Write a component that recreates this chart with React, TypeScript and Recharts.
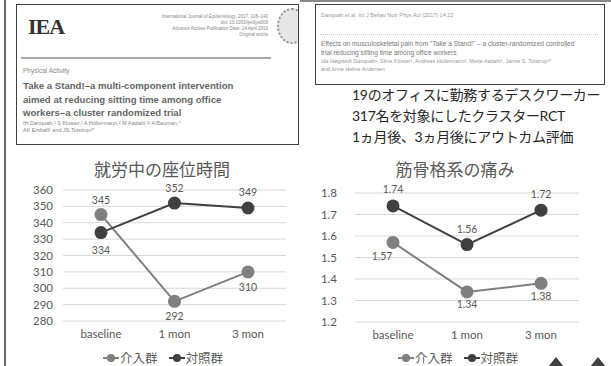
import React from "react";
import {
  LineChart,
  Line,
  XAxis,
  YAxis,
  CartesianGrid,
  LabelList,
} from "recharts";

const CATEGORIES = ["baseline", "1 mon", "3 mon"];
const SERIES_NAMES = ["介入群", "対照群"];

// 就労中の座位時間 (min)
const SITTING_INTERVENTION = [345, 292, 310];
const SITTING_CONTROL = [334, 352, 349];
const SITTING_TICKS = [280, 290, 300, 310, 320, 330, 340, 350, 360];

// 筋骨格系の痛み
const PAIN_INTERVENTION = [1.57, 1.34, 1.38];
const PAIN_CONTROL = [1.74, 1.56, 1.72];
const PAIN_TICKS = [1.2, 1.3, 1.4, 1.5, 1.6, 1.7, 1.8];

const sittingData = CATEGORIES.map((c, i) => ({
  name: c,
  a: SITTING_INTERVENTION[i],
  b: SITTING_CONTROL[i],
}));
const painData = CATEGORIES.map((c, i) => ({
  name: c,
  a: PAIN_INTERVENTION[i],
  b: PAIN_CONTROL[i],
}));

const C_INT = "#7f7f7f";
const C_CTL = "#404040";
const TXT = "#595959";
const FONT = "Lato, 'Noto Sans CJK JP', sans-serif";
const JP = "'Noto Sans CJK JP', sans-serif";

// label placement per point: [dx, dy]
const SIT_INT_LBL = [[0, -15], [0, 15], [0, 15]];
const SIT_CTL_LBL = [[0, 17], [0, -15], [0, -16]];
const PAIN_INT_LBL = [[-11, 14], [0, 12], [0, 13]];
const PAIN_CTL_LBL = [[0, -17], [0, -16], [0, -16]];

const makeLabel = (offsets: number[][], fmt: (v: number) => string) => (p: any) => {
  const o = offsets[p.index] || [0, 0];
  return (
    <text
      x={p.x + o[0]}
      y={p.y + o[1]}
      textAnchor="middle"
      dominantBaseline="central"
      fontSize={10.5}
      fill={TXT}
      fontFamily={FONT}
    >
      {fmt(p.value)}
    </text>
  );
};

function LegendRow({ left, top }: { left: number; top: number }) {
  const colors = [C_INT, C_CTL];
  return (
    <div
      style={{
        position: "absolute",
        left,
        top,
        display: "flex",
        alignItems: "center",
        fontFamily: JP,
        fontSize: 12.5,
        color: TXT,
        lineHeight: "14px",
      }}
    >
      {SERIES_NAMES.map((n, i) => (
        <div key={n} style={{ display: "flex", alignItems: "center", marginRight: 11 }}>
          <svg width={16} height={10} style={{ marginRight: 1 }}>
            <line x1={0} y1={5} x2={16} y2={5} stroke={colors[i]} strokeWidth={2} />
            <circle cx={8} cy={5} r={4} fill={colors[i]} />
          </svg>
          <span>{n}</span>
        </div>
      ))}
    </div>
  );
}

function Chart(props: {
  data: any[];
  left: number;
  ticks: number[];
  domain: [number, number];
  yWidth: number;
  yMargin: number;
  margin: any;
  padding: number;
  fmt: (v: number) => string;
  intLbl: number[][];
  ctlLbl: number[][];
}) {
  return (
    <div style={{ position: "absolute", left: props.left, top: 150 }}>
      <LineChart width={300} height={216} data={props.data} margin={props.margin}>
        <CartesianGrid vertical={false} stroke="#d9d9d9" />
        <XAxis
          dataKey="name"
          axisLine={false}
          tickLine={false}
          tickSize={0}
          tickMargin={9}
          padding={{ left: props.padding, right: props.padding }}
          tick={{ fill: TXT, fontSize: 11.5, fontFamily: FONT }}
        />
        <YAxis
          domain={props.domain}
          ticks={props.ticks}
          width={props.yWidth}
          axisLine={false}
          tickLine={false}
          tickSize={0}
          tickMargin={props.yMargin}
          interval={0}
          tickFormatter={props.fmt}
          tick={{ fill: TXT, fontSize: 11.5, fontFamily: FONT }}
        />
        <Line
          dataKey="a"
          name={SERIES_NAMES[0]}
          stroke={C_INT}
          strokeWidth={2}
          dot={{ r: 6.5, fill: C_INT, stroke: C_INT, strokeWidth: 0 }}
          activeDot={false}
          isAnimationActive={false}
        >
          <LabelList dataKey="a" content={makeLabel(props.intLbl, props.fmt)} />
        </Line>
        <Line
          dataKey="b"
          name={SERIES_NAMES[1]}
          stroke={C_CTL}
          strokeWidth={2}
          dot={{ r: 6.5, fill: C_CTL, stroke: C_CTL, strokeWidth: 0 }}
          activeDot={false}
          isAnimationActive={false}
        >
          <LabelList dataKey="b" content={makeLabel(props.ctlLbl, props.fmt)} />
        </Line>
      </LineChart>
    </div>
  );
}

const tiny = (size: number, color: string): React.CSSProperties => ({
  fontFamily: "'Liberation Sans', sans-serif",
  fontSize: size,
  color,
  whiteSpace: "nowrap",
  lineHeight: 1,
});

function PaperLeft() {
  return (
    <div
      style={{
        position: "absolute",
        left: 16,
        top: 4,
        width: 281,
        height: 139,
        border: "1px solid #404040",
        overflow: "hidden",
        background: "#fff",
      }}
    >
      <div
        style={{
          position: "absolute",
          left: 11,
          top: 9,
          fontFamily: "'Liberation Serif', serif",
          fontWeight: 700,
          fontSize: 22,
          color: "#333",
          letterSpacing: -1,
        }}
      >
        IEA
      </div>
      <div style={{ position: "absolute", right: 30, top: 10, textAlign: "right" }}>
        {[
          "International Journal of Epidemiology, 2017, 128–140",
          "doi: 10.1093/ije/dyw009",
          "Advance Access Publication Date: 14 April 2016",
          "Original article",
        ].map((t) => (
          <div key={t} style={{ ...tiny(4.5, "#888"), height: 6 }}>
            {t}
          </div>
        ))}
      </div>
      <div
        style={{
          position: "absolute",
          left: 260,
          top: 3,
          width: 26,
          height: 32,
          borderRadius: "50%",
          border: "2px dotted #999",
          background: "#e6e6e6",
        }}
      />
      <div style={{ position: "absolute", left: 4, top: 52, width: 250, height: 2, background: "#aaa" }} />
      <div style={{ position: "absolute", left: 6, top: 63, ...tiny(6.5, "#888") }}>Physical Activity</div>
      <div
        style={{
          position: "absolute",
          left: 6,
          top: 74,
          fontFamily: "'Liberation Sans', sans-serif",
          fontWeight: 700,
          fontSize: 9.6,
          lineHeight: "13.5px",
          color: "#666",
          whiteSpace: "nowrap",
        }}
      >
        <div>Take a Stand!–a multi-component intervention</div>
        <div>aimed at reducing sitting time among office</div>
        <div>workers–a cluster randomized trial</div>
      </div>
      <div style={{ position: "absolute", left: 6, top: 116 }}>
        <div style={{ ...tiny(5.5, "#888"), height: 7 }}>
          IH Danquah,¹ S Kloster,¹ A Holtermann,² M Aadahl,¹³ A Bauman,⁴
        </div>
        <div style={{ ...tiny(5.5, "#888"), height: 7 }}>AK Ersbøll¹ and JS Tolstrup¹*</div>
      </div>
    </div>
  );
}

function PaperRight() {
  return (
    <div
      style={{
        position: "absolute",
        left: 315,
        top: 4,
        width: 288,
        height: 79,
        border: "1px solid #404040",
        overflow: "hidden",
        background: "#fff",
      }}
    >
      <div style={{ position: "absolute", left: 5, top: 8, ...tiny(5.5, "#999") }}>
        Danquah et al. Int J Behav Nutr Phys Act (2017) 14:22
      </div>
      <div
        style={{
          position: "absolute",
          left: 4,
          top: 29,
          width: 278,
          borderTop: "1px dotted #ccc",
        }}
      />
      <div style={{ position: "absolute", left: 5, top: 36, ...tiny(6.6, "#777") }}>
        Effects on musculoskeletal pain from "Take a Stand!" – a cluster-randomized controlled
      </div>
      <div style={{ position: "absolute", left: 5, top: 45, ...tiny(6.6, "#777") }}>
        trial reducing sitting time among office workers
      </div>
      <div style={{ position: "absolute", left: 5, top: 54, ...tiny(5.4, "#999") }}>
        Ida Høgstedt Danquah¹, Stine Kloster¹, Andreas Holtermann², Mette Aadahl³, Janne S. Tolstrup¹*
      </div>
      <div style={{ position: "absolute", left: 5, top: 62, ...tiny(5.4, "#999") }}>
        and Anne Helms Andersen
      </div>
    </div>
  );
}

export default function App() {
  const fmt0 = (v: number) => String(v);
  const fmt2 = (v: number) => (Math.round(v * 100) / 100).toString();
  const fmtTick1 = (v: number) => v.toFixed(1);
  return (
    <div
      style={{
        position: "fixed",
        left: 0,
        top: 0,
        width: 611,
        height: 366,
        background: "#fff",
        overflow: "hidden",
        fontFamily: FONT,
      }}
    >
      <div style={{ position: "absolute", left: 4, top: 0, width: 2, height: 366, background: "#666" }} />
      <div style={{ position: "absolute", left: 300, top: 0, width: 311, height: 2, background: "#888" }} />
      <PaperLeft />
      <PaperRight />
      <div
        style={{
          position: "absolute",
          left: 352,
          top: 84,
          fontFamily: FONT,
          fontSize: 14,
          letterSpacing: -0.3,
          lineHeight: "21px",
          color: "#262626",
          whiteSpace: "nowrap",
        }}
      >
        <div>19のオフィスに勤務するデスクワーカー</div>
        <div>317名を対象にしたクラスターRCT</div>
        <div>1ヵ月後、3ヵ月後にアウトカム評価</div>
      </div>

      <div
        style={{
          position: "absolute",
          left: 62,
          width: 200,
          top: 157,
          textAlign: "center",
          fontFamily: JP,
          fontSize: 17,
          lineHeight: "24px",
          color: TXT,
        }}
      >
        就労中の座位時間
      </div>
      <div
        style={{
          position: "absolute",
          left: 355,
          width: 200,
          top: 157,
          textAlign: "center",
          fontFamily: JP,
          fontSize: 17,
          lineHeight: "24px",
          color: TXT,
        }}
      >
        筋骨格系の痛み
      </div>

      <Chart
        data={sittingData}
        left={0}
        ticks={SITTING_TICKS}
        domain={[280, 360]}
        yWidth={63}
        yMargin={10}
        margin={{ top: 40, right: 14, left: 0, bottom: 15 }}
        padding={38}
        fmt={fmt0}
        intLbl={SIT_INT_LBL}
        ctlLbl={SIT_CTL_LBL}
      />
      <Chart
        data={painData}
        left={300}
        ticks={PAIN_TICKS}
        domain={[1.2, 1.8]}
        yWidth={55}
        yMargin={18}
        margin={{ top: 43, right: 21, left: 0, bottom: 14 }}
        padding={38}
        fmt={(v) => (PAIN_TICKS.includes(v) ? fmtTick1(v) : fmt2(v))}
        intLbl={PAIN_INT_LBL}
        ctlLbl={PAIN_CTL_LBL}
      />

      <LegendRow left={103} top={351} />
      <LegendRow left={398} top={351} />

      <svg style={{ position: "absolute", left: 0, top: 0 }} width={611} height={366}>
        <polygon points="548,367 556,357 564,367" fill="#404040" />
        <polygon points="590,367 598,357 606,367" fill="#404040" />
      </svg>
    </div>
  );
}
